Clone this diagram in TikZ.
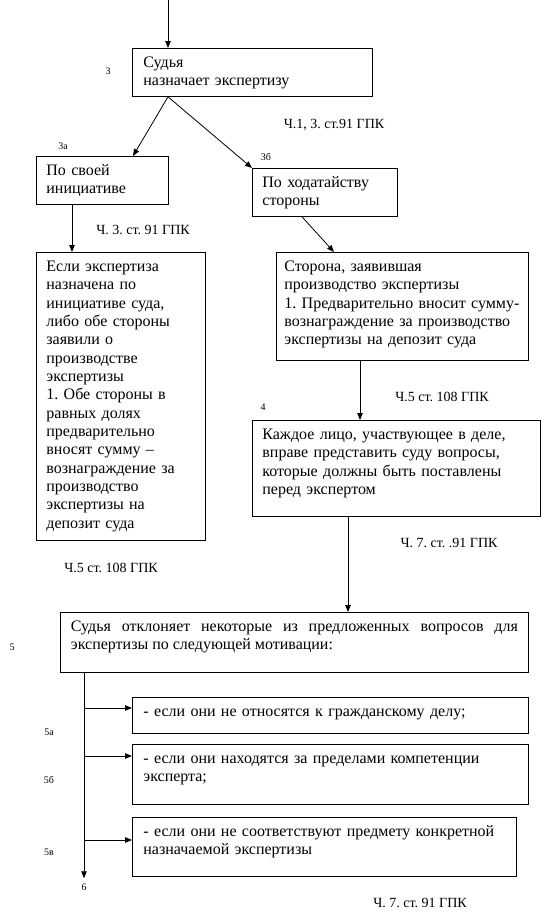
\documentclass[tikz,border=0pt]{standalone}
\usepackage{fontspec}
\setmainfont{Liberation Serif}
\usetikzlibrary{calc, arrows.meta}

\newcommand{\boxfont}{\fontsize{16pt}{18.33pt}\selectfont}
\newcommand{\reffont}{\fontsize{14pt}{16pt}\selectfont}
\newcommand{\numfont}{\fontsize{10pt}{12pt}\selectfont}
\frenchspacing

\begin{document}
\begin{tikzpicture}[x=1pt, y=-1pt, line width=0.8pt,
  box/.style={draw, anchor=north west, inner xsep=10pt, inner ysep=0pt,
    text height=19pt, align=left, font=\boxfont},
  arr/.style={-{Triangle[length=7pt, width=5.5pt]}},
  gpk/.style={font=\reffont, inner sep=0pt},
  num/.style={font=\numfont, inner sep=0pt}]
  \useasboundingbox (0,0) rectangle (542,913);
  \coordinate (in) at (168,0);
  \node[box, text width=218pt, inner xsep=11pt, text depth=29pt] (judge) at (132,48) {Судья\\назначает экспертизу};
  \node[box, text width=112pt, text depth=29pt] (own) at (36,156) {По своей\\инициативе};
  \node[box, text width=125pt, text depth=29pt] (motion) at (252,168) {По ходатайству\\стороны};
  \node[box, text width=149pt, text depth=269pt] (court) at (36,252) {Если экспертиза\\назначена по\\инициативе суда,\\либо обе стороны\\заявили о\\производстве\\экспертизы\\1. Обе стороны в\\равных долях\\предварительно\\вносят сумму –\\вознаграждение за\\производство\\экспертизы на\\депозит суда};
  \node[box, text width=236pt, inner xsep=8pt, text depth=89pt] (party) at (276,252) {Сторона, заявившая\\производство экспертизы\\1. Предварительно вносит сумму-\\вознаграждение за производство\\экспертизы на депозит суда};
  \node[box, text width=268pt, text depth=77pt] (each) at (252,420) {Каждое лицо, участвующее в деле,\\вправе представить суду вопросы,\\которые должны быть поставлены\\перед экспертом};
  \node[box, align=justify, text width=447pt, inner xsep=10.5pt, text depth=41pt] (reject) at (60,612) {Судья отклоняет некоторые из предложенных вопросов для\linebreak экспертизы по следующей мотивации:};
  \node[box, text width=374pt, inner xsep=11pt, text depth=17pt] (notcase) at (132,697) {- если они не относятся к гражданскому делу;};
  \node[box, text width=374pt, inner xsep=11pt, text depth=41pt] (notskill) at (132,744) {- если они находятся за пределами компетенции\\эксперта;};
  \node[box, text width=362pt, inner xsep=11pt, text depth=40pt] (notsubject) at (132,817) {- если они не соответствуют предмету конкретной\\назначаемой экспертизы};

  \node[num] (l3) at (108,71) {3};
  \node[num] (l3a) at (63,146) {3а};
  \node[num] (l3b) at (266,157) {3б};
  \node[num] (l4) at (263,407) {4};
  \node[num] (l5) at (12,647) {5};
  \node[num] (l5a) at (49,732) {5а};
  \node[num] (l5b) at (49,780) {5б};
  \node[num] (l5v) at (49,852) {5в};
  \node[num] (l6) at (84,887) {6};

  \node[gpk] (g1) at (334,125) {Ч.1, 3. ст.91 ГПК};
  \node[gpk] (g2) at (143,230) {Ч. 3. ст. 91 ГПК};
  \node[gpk] (g3) at (442,397) {Ч.5 ст. 108 ГПК};
  \node[gpk] (g4) at (449,543) {Ч. 7. ст. .91 ГПК};
  \node[gpk] (g5) at (111,568) {Ч.5 ст. 108 ГПК};
  \node[gpk] (g6) at (420,903) {Ч. 7. ст. 91 ГПК};

  \draw[arr] (in) -- ($(judge.north west)+(36,0)$);
  \draw[arr] ($(judge.south west)+(36,0)$) -- ($(own.north west)+(97,0)$);
  \draw[arr] ($(judge.south west)+(36,0)$) -- (motion.north west);
  \draw[arr] ($(own.south west)+(36,0)$) -- ($(court.north west)+(36,0)$);
  \draw[arr] ($(motion.south west)+(50,0)$) -- ($(party.north west)+(58,0)$);
  \draw[arr] ($(party.south west)+(84,0)$) -- ($(each.north west)+(108,0)$);
  \draw[arr] ($(each.south west)+(96,0)$) -- ($(reject.north west)+(288,0)$);
  \coordinate (trunk) at ($(reject.south west)+(24,0)$);
  \coordinate (end) at ($(l6.north)+(0,-5)$);
  \draw[arr] (trunk) -- (end);
  \foreach \b/\d in {notcase/11, notskill/12, notsubject/23} {
    \coordinate (j\b) at ($(\b.north west)+(0,\d)$);
    \draw[arr] (trunk |- j\b) -- (j\b);
  }
\end{tikzpicture}
\end{document}
